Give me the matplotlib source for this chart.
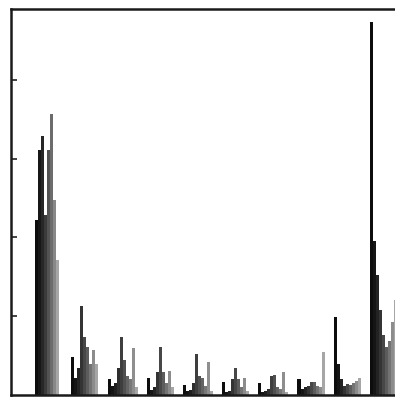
import numpy as np
import matplotlib
matplotlib.use("Agg")
import matplotlib.pyplot as plt

# histogram counts, 128 bins (scanned figure, read by eye), in units of one tick step
counts = [
    0, 0, 0, 0, 0, 0, 0, 0,                          # 0-7
    2.22, 3.11, 3.29, 2.29, 3.11, 3.57, 2.47, 1.71,  # 8-15  the two tall peaks
    0, 0, 0, 0,                                      # 16-19
    0.48, 0.22, 0.34, 1.13, 0.73, 0.61, 0.39, 0.57, 0.39,  # 20-28
    0, 0, 0,                                         # 29-31
    0.20, 0.12, 0.15, 0.34, 0.73, 0.44, 0.24, 0.20, 0.60, 0.10,  # 32-41
    0, 0, 0,                                         # 42-44
    0.22, 0.06, 0.10, 0.29, 0.61, 0.29, 0.15, 0.30, 0.10,  # 45-53
    0, 0, 0,                                         # 54-56
    0.13, 0.05, 0.06, 0.15, 0.52, 0.24, 0.22, 0.12, 0.42, 0.05,  # 57-66
    0, 0, 0,                                         # 67-69
    0.16, 0.04, 0.05, 0.20, 0.34, 0.20, 0.10, 0.22, 0.05,  # 70-78
    0, 0, 0,                                         # 79-81
    0.15, 0.04, 0.05, 0.08, 0.24, 0.25, 0.10, 0.08, 0.29, 0.04,  # 82-91
    0, 0, 0,                                         # 92-94
    0.20, 0.08, 0.10, 0.12, 0.16, 0.17, 0.12, 0.10, 0.55,  # 95-103
    0, 0, 0,                                         # 104-106
    0.99, 0.39, 0.20, 0.12, 0.14, 0.13, 0.15, 0.18, 0.22,  # 107-115
    0, 0, 0,                                         # 116-118
    4.73, 1.96, 1.52, 1.08, 0.76, 0.61, 0.69, 0.93, 1.20,  # 119-127 big peak
]
yticks = [1, 2, 3, 4]

counts = np.array(counts)
bins = np.arange(len(counts))

# shade each bin: dark at the left of a cluster, lighter gray to the right
shades = np.ones(len(counts))
start = None
for i, c in enumerate(counts):
    if c > 0 and start is None:
        start = i
    if c > 0 and (i + 1 == len(counts) or counts[i + 1] == 0):
        n = i - start + 1
        t = np.linspace(0, 1, n) if n > 1 else np.zeros(1)
        shades[start:i + 1] = 0.05 + 0.6 * t ** 1.4
        start = None
colors = [str(s) for s in shades]

fig = plt.figure(figsize=(3.95, 3.99), dpi=100)
ax = fig.add_axes([11 / 395, 4 / 399, 386 / 395, 386 / 399])

ax.bar(bins, counts, width=1.0, align="edge", color=colors, edgecolor="none",
       linewidth=0)

ax.set_xlim(0, len(counts))
ax.set_ylim(0, 4.9)
ax.set_xticks([])
ax.set_yticks(yticks)
ax.set_yticklabels([])
ax.tick_params(axis="y", direction="in", length=4, width=1.2, color="#222222")
for side in ["left", "top", "bottom", "right"]:
    ax.spines[side].set_linewidth(1.8)
    ax.spines[side].set_color("#1a1a1a")

fig.savefig("out.png", dpi=100)
